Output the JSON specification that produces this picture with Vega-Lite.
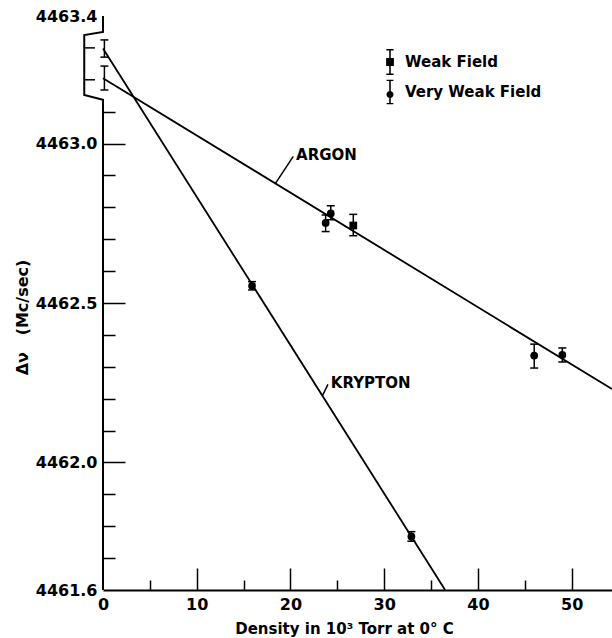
{
  "$schema": "https://vega.github.io/schema/vega-lite/v6.json",
  "width": 509,
  "height": 574,
  "autosize": {"type": "none"},
  "padding": {"left": 103, "top": 16, "right": 0, "bottom": 48},
  "background": "white",
  "config": {
    "view": {"stroke": null},
    "font": "DejaVu Sans",
    "axis": {
      "grid": false,
      "labelFont": "DejaVu Sans",
      "labelFontWeight": "bold",
      "labelFontSize": 16,
      "labelColor": "black",
      "titleFont": "DejaVu Sans",
      "titleFontWeight": "bold",
      "titleFontSize": 15,
      "titleColor": "black",
      "tickColor": "black",
      "tickWidth": 1.5,
      "domainColor": "black",
      "labelOverlap": false,
      "labelFlush": false,
      "labelBound": false
    }
  },
  "datasets": {
    "obs": [
      {"gas": "Argon", "field": "Very Weak Field", "density": 23.75, "dnu": 4462.751, "lo": 4462.724, "hi": 4462.776},
      {"gas": "Argon", "field": "Very Weak Field", "density": 24.3, "dnu": 4462.781, "lo": 4462.761, "hi": 4462.805},
      {"gas": "Argon", "field": "Weak Field", "density": 26.7, "dnu": 4462.743, "lo": 4462.711, "hi": 4462.778},
      {"gas": "Argon", "field": "Very Weak Field", "density": 46.0, "dnu": 4462.335, "lo": 4462.296, "hi": 4462.371},
      {"gas": "Argon", "field": "Very Weak Field", "density": 49.0, "dnu": 4462.337, "lo": 4462.315, "hi": 4462.359},
      {"gas": "Krypton", "field": "Very Weak Field", "density": 15.9, "dnu": 4462.554, "lo": 4462.541, "hi": 4462.567},
      {"gas": "Krypton", "field": "Very Weak Field", "density": 32.9, "dnu": 4461.768, "lo": 4461.753, "hi": 4461.783},
      {"gas": "Krypton", "field": "Extrapolated", "density": 0.15, "dnu": 4463.298, "lo": 4463.271, "hi": 4463.325},
      {"gas": "Argon", "field": "Extrapolated", "density": 0.15, "dnu": 4463.205, "lo": 4463.168, "hi": 4463.243}
    ],
    "fits": [
      {"gas": "Krypton", "density": 0, "dnu": 4463.298},
      {"gas": "Krypton", "density": 36.5, "dnu": 4461.6},
      {"gas": "Argon", "density": 0, "dnu": 4463.205},
      {"gas": "Argon", "density": 54.3, "dnu": 4462.23}
    ],
    "frame": [
      {"density": 0, "dnu": 4463.4},
      {"density": 0, "dnu": 4463.35},
      {"density": -2, "dnu": 4463.34},
      {"density": -2, "dnu": 4463.152},
      {"density": 0, "dnu": 4463.137},
      {"density": 0, "dnu": 4461.6}
    ],
    "breakticks": [
      {"density": -2, "density2": -0.85, "dnu": 4463.3},
      {"density": -2, "density2": -0.85, "dnu": 4463.2}
    ],
    "leaders": [
      {"gas": "Argon", "density": 18.4, "dnu": 4462.875, "density2": 20.3, "dnu2": 4462.96},
      {"gas": "Krypton", "density": 23.4, "dnu": 4462.209, "density2": 24.0, "dnu2": 4462.245}
    ],
    "labels": [
      {"label": "ARGON", "density": 20.6, "dnu": 4462.963},
      {"label": "KRYPTON", "density": 24.3, "dnu": 4462.249}
    ]
  },
  "resolve": {"axis": {"x": "independent", "y": "independent"}, "scale": {"shape": "independent"}},
  "layer": [
    {
      "data": {"name": "frame"},
      "mark": {"type": "line", "color": "black", "strokeWidth": 2},
      "encoding": {
        "x": {
          "field": "density", "type": "quantitative",
          "scale": {"domain": [0, 54.3], "nice": false, "zero": false},
          "axis": {
            "orient": "bottom",
            "values": [0, 10, 20, 30, 40, 50],
            "ticks": false,
            "domain": true,
            "domainWidth": 2,
            "labelPadding": 6,
            "title": "Density in 10³ Torr at 0° C",
            "titleFontSize": 15,
            "titleX": 241,
            "titleY": 43,
            "titleAlign": "center",
            "titleBaseline": "alphabetic"
          }
        },
        "y": {
          "field": "dnu", "type": "quantitative",
          "scale": {"domain": [4461.6, 4463.4], "nice": false, "zero": false},
          "axis": {
            "orient": "left",
            "values": [4461.6, 4462.0, 4462.5, 4463.0, 4463.4],
            "format": ".1f",
            "ticks": false,
            "domain": false,
            "labelPadding": 6,
            "labelBaseline": "middle",
            "title": "Δν\u00a0\u00a0\u00a0(Mc/sec)",
            "titleFontSize": 16,
            "titleAngle": -90,
            "titleX": -81,
            "titleY": 301,
            "titleAlign": "center",
            "titleBaseline": "middle"
          }
        },
        "order": {"value": null}
      }
    },
    {
      "data": {"name": "fits"},
      "mark": {"type": "line", "color": "black", "strokeWidth": 1.8},
      "encoding": {
        "x": {
          "field": "density", "type": "quantitative",
          "scale": {"domain": [0, 54.3], "nice": false, "zero": false},
          "axis": {"orient": "bottom", "values": [5, 15, 25, 35, 45], "labels": false, "domain": false, "tickSize": -10, "title": null}
        },
        "y": {
          "field": "dnu", "type": "quantitative",
          "scale": {"domain": [4461.6, 4463.4], "nice": false, "zero": false},
          "axis": {"orient": "left", "values": [4461.7, 4461.8, 4461.9, 4462.1, 4462.2, 4462.3, 4462.4, 4462.6, 4462.7, 4462.8, 4462.9, 4463.1], "labels": false, "domain": false, "tickSize": -12, "title": null}
        },
        "detail": {"field": "gas"}
      }
    },
    {
      "data": {"name": "breakticks"},
      "mark": {"type": "rule", "color": "black", "strokeWidth": 1.5},
      "encoding": {
        "x": {"field": "density", "type": "quantitative", "scale": {"domain": [0, 54.3], "nice": false, "zero": false}, "axis": null},
        "x2": {"field": "density2"},
        "y": {"field": "dnu", "type": "quantitative", "scale": {"domain": [4461.6, 4463.4], "nice": false, "zero": false}, "axis": null}
      }
    },
    {
      "data": {"name": "obs"},
      "mark": {"type": "rule", "color": "black", "strokeWidth": 1.5},
      "encoding": {
        "x": {
          "field": "density", "type": "quantitative",
          "scale": {"domain": [0, 54.3], "nice": false, "zero": false},
          "axis": {"orient": "bottom", "values": [10, 20, 30, 40, 50], "labels": false, "domain": false, "tickSize": -22, "title": null}
        },
        "y": {
          "field": "lo", "type": "quantitative",
          "scale": {"domain": [4461.6, 4463.4], "nice": false, "zero": false},
          "axis": {"orient": "left", "values": [4462.0, 4462.5, 4463.0], "labels": false, "domain": false, "tickSize": -22, "title": null}
        },
        "y2": {"field": "hi"}
      }
    },
    {
      "data": {"name": "obs"},
      "mark": {"type": "tick", "orient": "horizontal", "color": "black", "size": 8, "thickness": 1.5, "opacity": 1},
      "encoding": {
        "x": {"field": "density", "type": "quantitative", "scale": {"domain": [0, 54.3], "nice": false, "zero": false}, "axis": null},
        "y": {"field": "lo", "type": "quantitative", "scale": {"domain": [4461.6, 4463.4], "nice": false, "zero": false}, "axis": null}
      }
    },
    {
      "data": {"name": "obs"},
      "mark": {"type": "tick", "orient": "horizontal", "color": "black", "size": 8, "thickness": 1.5, "opacity": 1},
      "encoding": {
        "x": {"field": "density", "type": "quantitative", "scale": {"domain": [0, 54.3], "nice": false, "zero": false}, "axis": null},
        "y": {"field": "hi", "type": "quantitative", "scale": {"domain": [4461.6, 4463.4], "nice": false, "zero": false}, "axis": null}
      }
    },
    {
      "data": {"name": "obs"},
      "transform": [{"filter": "datum.field !== 'Extrapolated'"}],
      "mark": {"type": "point", "filled": true, "color": "black", "size": 60, "opacity": 1},
      "encoding": {
        "x": {"field": "density", "type": "quantitative", "scale": {"domain": [0, 54.3], "nice": false, "zero": false}, "axis": null},
        "y": {"field": "dnu", "type": "quantitative", "scale": {"domain": [4461.6, 4463.4], "nice": false, "zero": false}, "axis": null},
        "shape": {
          "field": "field", "type": "nominal",
          "scale": {"domain": ["Weak Field", "Very Weak Field"], "range": ["square", "circle"]},
          "legend": null
        }
      }
    },
    {
      "data": {"name": "obs"},
      "transform": [{"filter": "datum.field !== 'Extrapolated'"}],
      "mark": {"type": "point", "filled": true, "color": "black", "size": 676, "opacity": 0},
      "encoding": {
        "x": {"field": "density", "type": "quantitative", "scale": {"domain": [0, 54.3], "nice": false, "zero": false}, "axis": null},
        "y": {"field": "dnu", "type": "quantitative", "scale": {"domain": [4461.6, 4463.4], "nice": false, "zero": false}, "axis": null},
        "shape": {
          "field": "field", "type": "nominal",
          "scale": {
            "domain": ["Weak Field", "Very Weak Field"],
            "range": [
              "M-0.3,-0.3H0.3V0.3H-0.3Z M-0.06,-1H0.06V1H-0.06Z M-0.28,-1H0.28V-0.89H-0.28Z M-0.28,0.89H0.28V1H-0.28Z",
              "M-0.27,0.2A0.27,0.27 0 1,1 0.27,0.2A0.27,0.27 0 1,1 -0.27,0.2Z M-0.06,-0.95H0.06V0.95H-0.06Z M-0.26,-0.95H0.26V-0.84H-0.26Z M-0.26,0.84H0.26V0.95H-0.26Z"
            ]
          },
          "legend": {
            "title": null,
            "orient": "none",
            "legendX": 274,
            "legendY": 33,
            "padding": 0,
            "symbolSize": 676,
            "symbolOpacity": 1,
            "symbolFillColor": "black",
            "symbolStrokeWidth": 0,
            "rowPadding": 4,
            "labelOffset": 2,
            "labelFont": "DejaVu Sans",
            "labelFontSize": 15,
            "labelFontWeight": "bold",
            "labelColor": "black",
            "labelBaseline": "middle"
          }
        }
      }
    },
    {
      "mark": {"type": "rule", "color": "black", "strokeWidth": 2},
      "encoding": {
        "y": {"datum": 4463.4, "type": "quantitative", "scale": {"domain": [4461.6, 4463.4], "nice": false, "zero": false}, "axis": null}
      }
    },
    {
      "data": {"name": "leaders"},
      "mark": {"type": "rule", "color": "black", "strokeWidth": 1.5},
      "encoding": {
        "x": {"field": "density", "type": "quantitative", "scale": {"domain": [0, 54.3], "nice": false, "zero": false}, "axis": null},
        "x2": {"field": "density2"},
        "y": {"field": "dnu", "type": "quantitative", "scale": {"domain": [4461.6, 4463.4], "nice": false, "zero": false}, "axis": null},
        "y2": {"field": "dnu2"}
      }
    },
    {
      "data": {"name": "labels"},
      "mark": {"type": "text", "align": "left", "baseline": "middle", "font": "DejaVu Sans", "fontWeight": "bold", "fontSize": 15, "color": "black"},
      "encoding": {
        "x": {"field": "density", "type": "quantitative", "scale": {"domain": [0, 54.3], "nice": false, "zero": false}, "axis": null},
        "y": {"field": "dnu", "type": "quantitative", "scale": {"domain": [4461.6, 4463.4], "nice": false, "zero": false}, "axis": null},
        "text": {"field": "label"}
      }
    }
  ]
}
